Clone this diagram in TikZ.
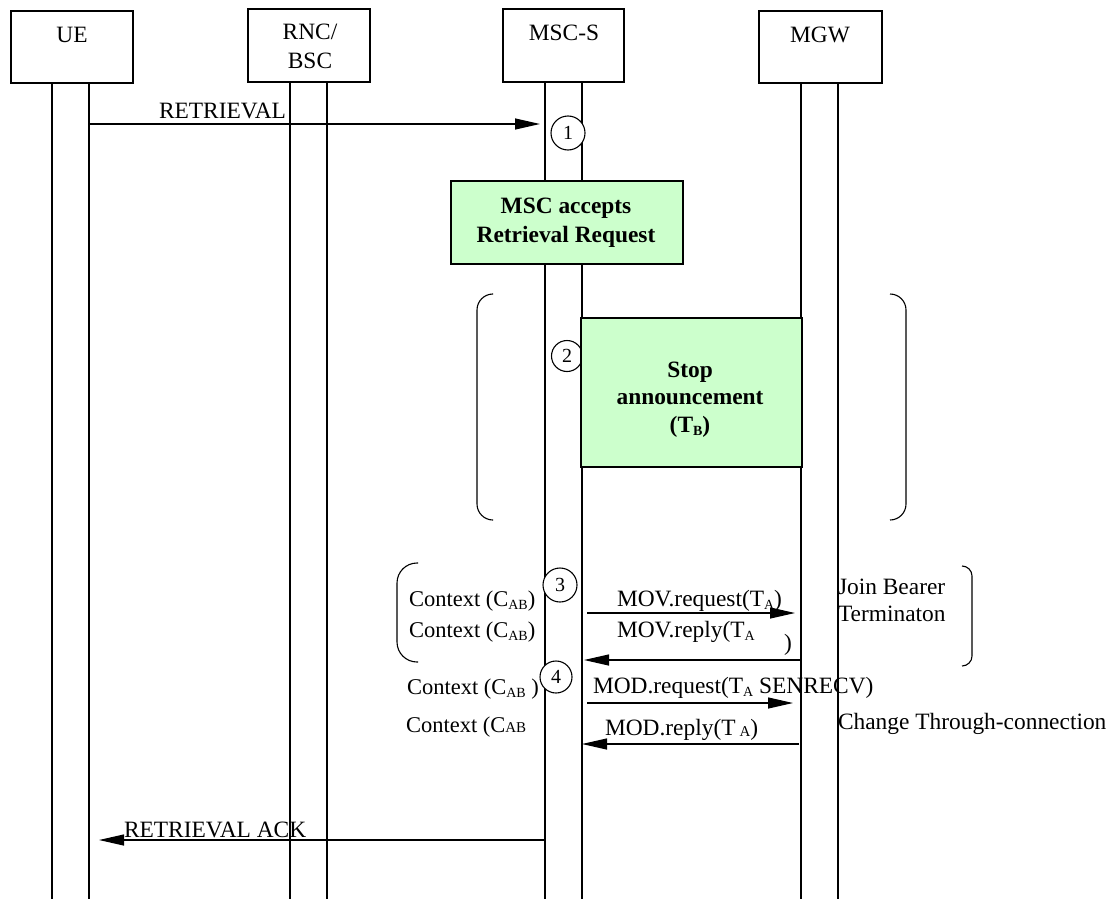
\documentclass[tikz,border=0pt]{standalone}
\usepackage{fontspec}
\setmainfont{Liberation Serif}
\usetikzlibrary{arrows.meta}
\definecolor{actgreen}{HTML}{CCFFCC}
\newcommand\subx[1]{\raisebox{-3pt}{\fontsize{14}{14}\selectfont #1}}
\newcommand\smallab[1]{{\fontsize{15}{15}\selectfont #1}}
\begin{document}
\begin{tikzpicture}[x=1pt,y=-1pt,
  every node/.style={font=\fontsize{23.4}{28}\selectfont, inner sep=0pt, outer sep=0pt},
  hdr/.style={draw, line width=1.3pt, fill=white},
  actbox/.style={draw, line width=1.3pt, fill=actgreen},
  life/.style={line width=1.2pt},
  msg/.style={line width=1.2pt, -{Triangle[length=25pt,width=11pt]}},
  num/.style={draw, circle, line width=1.1pt, fill=white, minimum size=33pt, font=\fontsize{20}{20}\selectfont},
  brk/.style={line width=1.1pt},
  lbl/.style={anchor=base west},
  ctx/.style={anchor=base west, font=\fontsize{22.5}{27}\selectfont},
  bold/.style={anchor=base, font=\fontsize{23.4}{28}\selectfont\bfseries}
]
\useasboundingbox (0,0) rectangle (1115,899);

% lifelines
\draw[life] (52,83) -- (52,899);
\draw[life] (89,83) -- (89,899);
\draw[life] (290,82) -- (290,899);
\draw[life] (327,82) -- (327,899);
\draw[life] (545,82) -- (545,899);
\draw[life] (582,82) -- (582,899);
\draw[life] (801,83) -- (801,899);
\draw[life] (838,83) -- (838,899);

% header boxes
\node[hdr, minimum width=122pt, minimum height=72pt] (ue) at (72,47) {};
\node[anchor=base] (uet) at (72,43) {UE};
\node[hdr, minimum width=122pt, minimum height=73pt] (rnc) at (309,45.5) {};
\node[anchor=base] (rnct1) at (310,40) {RNC/};
\node[anchor=base] (rnct2) at (310,68) {BSC};
\node[hdr, minimum width=121pt, minimum height=73pt] (msc) at (563.5,45.5) {};
\node[anchor=base] (msct) at (564,41) {MSC-S};
\node[hdr, minimum width=123pt, minimum height=72pt] (mgw) at (820.5,47) {};
\node[anchor=base] (mgwt) at (820,43) {MGW};

% step 1
\coordinate (r1s) at (89,124);
\coordinate (r1e) at (540,124);
\draw[msg] (r1s) -- (r1e);
\node[lbl] (r1t) at (159,118) {RETRIEVAL};
\node[num, minimum size=34pt] (c1) at (568,133) {1};

% MSC accepts box
\node[actbox, minimum width=232pt, minimum height=83pt] (acc) at (567,222.5) {};
\node[bold] (acct1) at (566,213) {MSC accepts};
\node[bold] (acct2) at (566,242) {Retrieval Request};

% big brackets
\draw[brk, rounded corners=16pt] (492,294) -- (477,294) -- (477,520) -- (492,520);
\draw[brk, rounded corners=16pt] (890,294) -- (906,294) -- (906,520) -- (890,520);

% step 2
\node[num, minimum size=31pt] (c2) at (567,356) {2};
\node[actbox, minimum width=221pt, minimum height=149pt] (stop) at (691.5,392.5) {};
\node[bold] (stopt1) at (690,377) {Stop};
\node[bold] (stopt2) at (690,404) {announcement};
\node[bold] (stopt3) at (690,432) {(T\subx{B})};

% small brackets
\draw[brk, rounded corners=20pt] (418,563) -- (397,563) -- (397,662) -- (418,662);
\draw[brk, rounded corners=10pt] (962,566) -- (972,566) -- (972,666) -- (962,666);

% step 3
\node[num, minimum size=34pt] (c3) at (560,585) {3};
\node[ctx] (ctx1) at (409,606) {Context (C\subx{AB})};
\node[ctx] (ctx2) at (409,637) {Context (C\subx{AB})};
\node[lbl] (movq) at (617,606) {MOV.request(T\subx{A})};
\coordinate (m1s) at (587,613);
\coordinate (m1e) at (795,613);
\draw[msg] (m1s) -- (m1e);
\node[lbl] (movr) at (617,637) {MOV.reply(T\subx{A}};
\node[lbl] (movrp) at (784,650) {)};
\coordinate (m2s) at (801,660);
\coordinate (m2e) at (584,660);
\draw[msg] (m2s) -- (m2e);
\node[lbl] (join1) at (838,594) {Join Bearer};
\node[lbl] (join2) at (838,621) {Terminaton};

% step 4
\node[num, minimum size=32pt] (c4) at (556,677) {4};
\node[ctx] (ctx3) at (407,694) {Context (C\subx{AB} )};
\node[ctx] (ctx4) at (406,732) {Context (C\smallab{AB}};
\node[lbl] (modq) at (593,693) {MOD.request(T\subx{A} SENRECV)};
\coordinate (d1s) at (587,703);
\coordinate (d1e) at (793,703);
\draw[msg] (d1s) -- (d1e);
\node[lbl] (modr) at (605,735) {MOD.reply(T\,\raisebox{-1pt}{\smallab{A}})};
\coordinate (d2s) at (799,744);
\coordinate (d2e) at (582,744);
\draw[msg] (d2s) -- (d2e);
\node[lbl] (chg) at (838,729) {Change Through-connection};

% ack
\coordinate (as) at (545,840);
\coordinate (ae) at (99,840);
\draw[msg] (as) -- (ae);
\node[lbl] (ackt) at (124,837) {RETRIEVAL ACK};
\end{tikzpicture}
\end{document}
